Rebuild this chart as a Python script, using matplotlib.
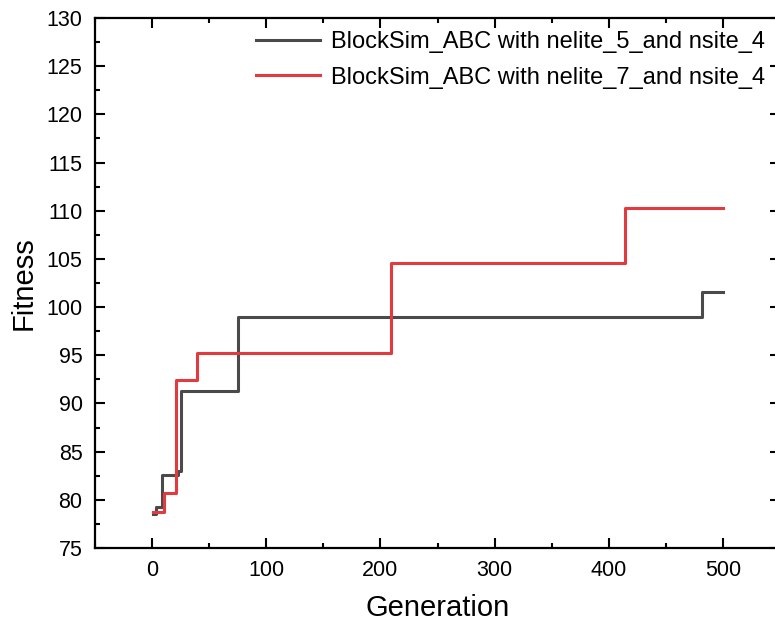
import numpy as np
import matplotlib
matplotlib.use('Agg')
import matplotlib.pyplot as plt
from matplotlib.ticker import MultipleLocator

# best fitness per generation (step changes only)
gen_5 = [1, 3, 9, 23, 25, 75, 482, 500]
fit_5 = [78.5, 79.3, 82.6, 83.0, 91.3, 99.0, 101.6, 101.6]
gen_7 = [1, 10, 21, 39, 209, 414, 500]
fit_7 = [78.7, 80.7, 92.4, 95.2, 104.6, 110.3, 110.3]
labels = ['BlockSim_ABC with nelite_5_and nsite_4',
          'BlockSim_ABC with nelite_7_and nsite_4']

plt.rcParams['font.family'] = ['Liberation Sans', 'DejaVu Sans']

fig = plt.figure(figsize=(7.75, 6.25), dpi=100)
ax = fig.add_axes([95/775, 1-548/625, (780-95)/775, (548-18)/625])

ax.plot(gen_5, fit_5, drawstyle='steps-post', color='#4a4a4a', lw=2.2, label=labels[0])
ax.plot(gen_7, fit_7, drawstyle='steps-post', color='#e23a3f', lw=2.2, label=labels[1])

ax.set_xlim(-50, 550)
ax.set_ylim(75, 130)
ax.xaxis.set_major_locator(MultipleLocator(100))
ax.xaxis.set_minor_locator(MultipleLocator(50))
ax.yaxis.set_major_locator(MultipleLocator(5))
ax.yaxis.set_minor_locator(MultipleLocator(2.5))
ax.tick_params(which='both', direction='in', top=True, right=True, width=1.5, labelsize=15.5)
ax.tick_params(which='major', length=7)
ax.tick_params(which='minor', length=3.5)
ax.tick_params(axis='x', pad=9)
ax.tick_params(axis='y', pad=9)
for s in ax.spines.values():
    s.set_linewidth(1.6)

ax.set_xlabel('Generation', fontsize=21, labelpad=9)
ax.set_ylabel('Fitness', fontsize=21, labelpad=6)

ax.legend(loc='upper left', bbox_to_anchor=(256/775, 1-31/625), bbox_transform=fig.transFigure,
          frameon=False, fontsize=17, handlelength=2.7, handletextpad=0.47,
          labelspacing=0.58, borderpad=0, borderaxespad=0)

plt.savefig('out.png', dpi=100)
